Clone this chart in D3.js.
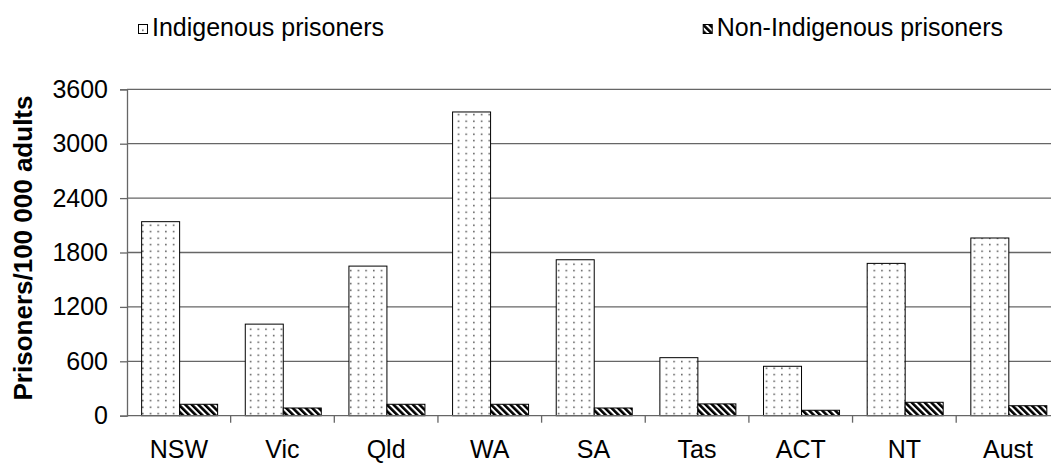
<!DOCTYPE html>
<html>
<head>
<meta charset="utf-8">
<script src="https://cdn.jsdelivr.net/npm/d3@7"></script>
<style>
  html, body { margin: 0; padding: 0; background: #fff; }
  svg { display: block; font-family: "Liberation Sans", Arial, sans-serif; }
</style>
</head>
<body>
<svg id="chart" width="1051" height="463"></svg>
<script>
// Imprisonment rates by jurisdiction (prisoners per 100 000 adults)
const categories = ["NSW", "Vic", "Qld", "WA", "SA", "Tas", "ACT", "NT", "Aust"];
const indigenous = [2140, 1010, 1650, 3350, 1720, 640, 545, 1680, 1960];
const nonIndigenous = [126, 85, 126, 126, 85, 130, 60, 148, 110];
const seriesNames = ["Indigenous prisoners", "Non-Indigenous prisoners"];
const yTicks = [0, 600, 1200, 1800, 2400, 3000, 3600];

const svg = d3.select("#chart");
const plotLeft = 127, plotTop = 89.3, plotBottom = 415.7;
const bandW = 103.65;
const plotRight = plotLeft + bandW * categories.length;
const fontSize = 25;

const defs = svg.append("defs");
// light dotted fill
const dots = defs.append("pattern").attr("id", "dots")
  .attr("patternUnits", "userSpaceOnUse").attr("width", 7.7).attr("height", 6.5)
  .attr("x", 0.5).attr("y", 1);
dots.append("rect").attr("width", 7.7).attr("height", 6.5).attr("fill", "#fff");
dots.append("rect").attr("x", 3).attr("y", 2.5).attr("width", 1.4).attr("height", 1.4).attr("fill", "#333");
// dark diagonal hatch
const hatch = defs.append("pattern").attr("id", "hatch")
  .attr("patternUnits", "userSpaceOnUse").attr("width", 4.6).attr("height", 10)
  .attr("patternTransform", "rotate(-45)");
hatch.append("rect").attr("width", 4.6).attr("height", 10).attr("fill", "#fff");
hatch.append("rect").attr("width", 2.6).attr("height", 10).attr("fill", "#000");

const x = d3.scaleBand().domain(categories).range([plotLeft, plotRight]).paddingInner(0).paddingOuter(0);
const y = d3.scaleLinear().domain([0, 3600]).range([plotBottom, plotTop]);

// gridlines
svg.append("g").selectAll("line").data(yTicks.filter(d => d > 0)).join("line")
  .attr("x1", plotLeft).attr("x2", plotRight)
  .attr("y1", d => y(d)).attr("y2", d => y(d))
  .attr("stroke", "#666").attr("stroke-width", 1.3);

// bars
const groupW = 76;
const barW = groupW / 2;
const fills = ["url(#dots)", "url(#hatch)"];
[indigenous, nonIndigenous].forEach((vals, si) => {
  svg.append("g").selectAll("rect").data(vals).join("rect")
    .attr("x", (d, i) => x(categories[i]) + (bandW - groupW) / 2 + 0.8 + si * barW)
    .attr("y", d => y(d))
    .attr("width", barW)
    .attr("height", d => plotBottom - y(d))
    .attr("fill", fills[si])
    .attr("stroke", "#000").attr("stroke-width", 1);
});

// y axis
const yAxis = svg.append("g").attr("transform", `translate(${plotLeft},0)`)
  .call(d3.axisLeft(y).tickValues(yTicks).tickSize(7).tickPadding(12).tickFormat(d3.format("d")));
yAxis.select(".domain").attr("stroke", "#666").attr("stroke-width", 1.3);
yAxis.selectAll(".tick line").attr("stroke", "#666").attr("stroke-width", 1.3);
yAxis.selectAll("text").attr("font-size", fontSize).attr("fill", "#000")
  .attr("font-family", "Liberation Sans, Arial, sans-serif");

// x axis baseline + boundary ticks
svg.append("line").attr("x1", plotLeft).attr("x2", plotRight).attr("y1", plotBottom).attr("y2", plotBottom)
  .attr("stroke", "#666").attr("stroke-width", 1.3);
svg.append("g").selectAll("line").data(d3.range(1, categories.length + 1)).join("line")
  .attr("x1", i => plotLeft + i * bandW).attr("x2", i => plotLeft + i * bandW)
  .attr("y1", plotBottom).attr("y2", plotBottom + 7)
  .attr("stroke", "#666").attr("stroke-width", 1.3);
svg.append("g").selectAll("text").data(categories).join("text")
  .attr("x", d => x(d) + bandW / 2).attr("y", 458)
  .attr("text-anchor", "middle").attr("font-size", fontSize).attr("fill", "#000")
  .text(d => d);

// y title
svg.append("text")
  .attr("transform", "translate(32,248) rotate(-90)")
  .attr("text-anchor", "middle").attr("font-size", 26).attr("font-weight", "bold")
  .text("Prisoners/100 000 adults");

// legend: first entry from the left, second entry ending near the right edge
const legendAnchors = [{ x: 152, anchor: "start" }, { x: 1003, anchor: "end" }];
seriesNames.forEach((name, i) => {
  const g = svg.append("g");
  const t = g.append("text").attr("x", legendAnchors[i].x).attr("y", 36)
    .attr("text-anchor", legendAnchors[i].anchor)
    .attr("font-size", fontSize).attr("fill", "#000").text(name);
  const bb = t.node().getBBox();
  g.append("rect").attr("x", bb.x - 13.5).attr("y", 24.5).attr("width", 9).attr("height", 9)
    .attr("fill", fills[i]).attr("stroke", "#000").attr("stroke-width", 1);
});
</script>
</body>
</html>
